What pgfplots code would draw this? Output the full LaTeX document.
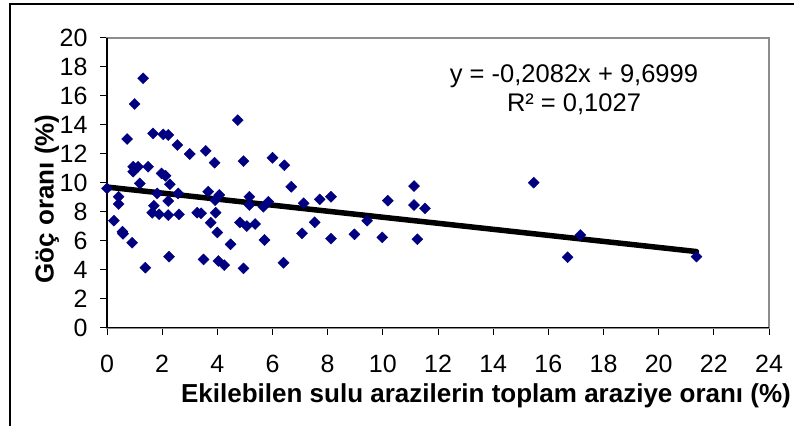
\documentclass[border=0pt]{standalone}
\usepackage{pgfplots}
\pgfplotsset{compat=1.18}
\usepackage{fontspec}
\setmainfont{Liberation Sans}
\definecolor{navy}{HTML}{000080}
\definecolor{framegray}{HTML}{8C8C8C}
\begin{document}
\begin{tikzpicture}[x=1bp,y=1bp]
\path[use as bounding box] (0,0) rectangle (794,426);
\draw[black,line width=2bp] (10,0) -- (10,422) -- (794,422);
\begin{axis}[
  at={(107bp,98.3bp)}, anchor=south west,
  scale only axis, width=662bp, height=290bp,
  xmin=0, xmax=24, ymin=0, ymax=20,
  xtick={0,2,...,24}, ytick={0,2,...,20},
  axis line style={framegray,line width=2bp},
  xtick pos=bottom, ytick pos=left,
  tick align=outside, major tick length=7bp,
  tick style={black,line width=1bp},
  /pgf/number format/assume math mode=true,
  ticklabel style={font=\fontsize{25bp}{29bp}\selectfont},
  xticklabel style={yshift=-17bp},
  yticklabel style={xshift=-9bp},
  clip=false,
]
\draw[black,line width=1.5bp] (rel axis cs:0,1) -- (rel axis cs:0,0) -- (rel axis cs:1,0);
\addplot[only marks, mark=square*, mark size=3.9bp, mark options={rotate=45, fill=navy, draw=navy}] coordinates {
(0,9.61) (0.42,9.03) (0.42,8.53) (0.25,7.38) (0.56,6.62) (0.58,6.48) (0.91,5.86)
(0.73,13.01) (1.0,15.43) (1.31,17.2) (0.95,11.1) (0.95,10.76) (1.13,11.1) (1.49,11.1)
(1.19,9.95) (1.39,4.14) (1.67,13.4) (2.04,13.33) (2.22,13.29) (2.55,12.6) (3.0,11.98)
(3.58,12.2) (3.9,11.38) (4.74,14.32) (4.95,11.49) (6.0,11.72) (6.43,11.2) (6.68,9.72)
(1.98,10.64) (2.12,10.48) (2.28,9.89) (1.82,9.26) (2.58,9.26) (1.70,8.41) (1.64,7.93)
(1.89,7.82) (2.22,8.74) (2.22,7.77) (2.61,7.82) (2.25,4.9) (3.27,7.93) (3.41,7.89)
(3.67,9.38) (3.76,7.24) (3.92,8.80) (3.94,7.93) (4.07,9.15) (4.0,6.57) (4.48,5.75)
(3.50,4.71) (4.04,4.6) (4.25,4.32) (4.95,4.09) (5.16,9.03) (5.16,8.46) (4.82,7.26)
(5.07,7.01) (5.37,7.15) (5.67,8.34) (5.85,8.69) (5.71,6.05) (6.4,4.48) (7.13,8.58)
(7.07,6.51) (7.53,7.27) (7.71,8.85) (8.12,9.03) (8.12,6.14) (8.97,6.44) (9.43,7.38)
(9.98,6.23) (10.18,8.76) (11.13,9.77) (11.13,8.46) (11.53,8.23) (11.25,6.1)
(15.47,10.0) (17.16,6.39) (16.7,4.86) (21.37,4.9)
};
\addplot[black, line width=5.5bp, line cap=round] coordinates {(0,9.6999) (21.37,5.2507)};
\node[anchor=base, font=\fontsize{25.5bp}{30bp}\selectfont] at (axis description cs:0.7054,0.846) {y = -0,2082x + 9,6999};
\node[anchor=base, font=\fontsize{25.5bp}{30bp}\selectfont] at (axis description cs:0.7054,0.745) {R² = 0,1027};
\node[anchor=center, font=\fontsize{26bp}{30bp}\selectfont\bfseries] at (axis description cs:0.5725,-0.2355) {Ekilebilen sulu arazilerin toplam araziye oranı (\%)};
\node[anchor=center, rotate=90, font=\fontsize{26bp}{30bp}\selectfont\bfseries] at (axis description cs:-0.0906,0.4438) {Göç oranı (\%)};
\end{axis}
\end{tikzpicture}
\end{document}
